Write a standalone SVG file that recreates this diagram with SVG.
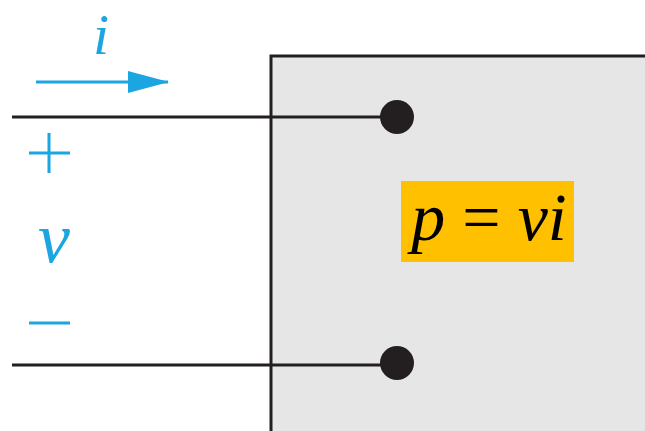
<svg xmlns="http://www.w3.org/2000/svg" width="645" height="431" viewBox="0 0 645 431">
<style>
.wire{stroke:#231f20;stroke-width:3;fill:none}
.blue{fill:#1ba6e2;font-family:'Liberation Serif','Times New Roman','DejaVu Serif',serif;font-style:italic}
.math{font-family:'Liberation Serif','Times New Roman','DejaVu Serif',serif;fill:#000}
.sign{stroke:#1ba6e2;stroke-width:3;fill:none}
</style>
<defs>
<marker id="ah" markerUnits="userSpaceOnUse" markerWidth="42" markerHeight="22" refX="40" refY="11" orient="auto">
<path d="M0,0 L41,11 L0,22 Z" fill="#1ba6e2"/>
</marker>
</defs>
<rect width="645" height="431" fill="#ffffff"/>
<g id="box">
<rect x="271" y="56" width="380" height="390" fill="#e6e6e6" stroke="#231f20" stroke-width="3"/>
</g>
<g id="connectors">
<line class="wire" x1="12" y1="117" x2="397" y2="117"/>
<line class="wire" x1="12" y1="365" x2="397" y2="365"/>
<line x1="36" y1="82" x2="168" y2="82" stroke="#1ba6e2" stroke-width="3" marker-end="url(#ah)"/>
</g>
<g id="terminal-top"><circle cx="397" cy="117" r="17" fill="#231f20"/></g>
<g id="terminal-bottom"><circle cx="397" cy="363" r="17" fill="#231f20"/></g>
<g id="label-i"><text class="blue" x="101" y="54" font-size="58" text-anchor="middle">i</text></g>
<g id="label-plus"><path class="sign" d="M29,153 H70 M49,133 V173"/></g>
<g id="label-v"><text class="blue" x="54" y="262" font-size="72" text-anchor="middle">v</text></g>
<g id="label-minus"><path class="sign" d="M29,323 H70"/></g>
<g id="power">
<rect x="401" y="181" width="173" height="81" fill="#ffc000"/>
<text class="math" x="489" y="240" font-size="68" text-anchor="middle"><tspan font-style="italic">p</tspan> = <tspan font-style="italic">vi</tspan></text>
</g>
</svg>
